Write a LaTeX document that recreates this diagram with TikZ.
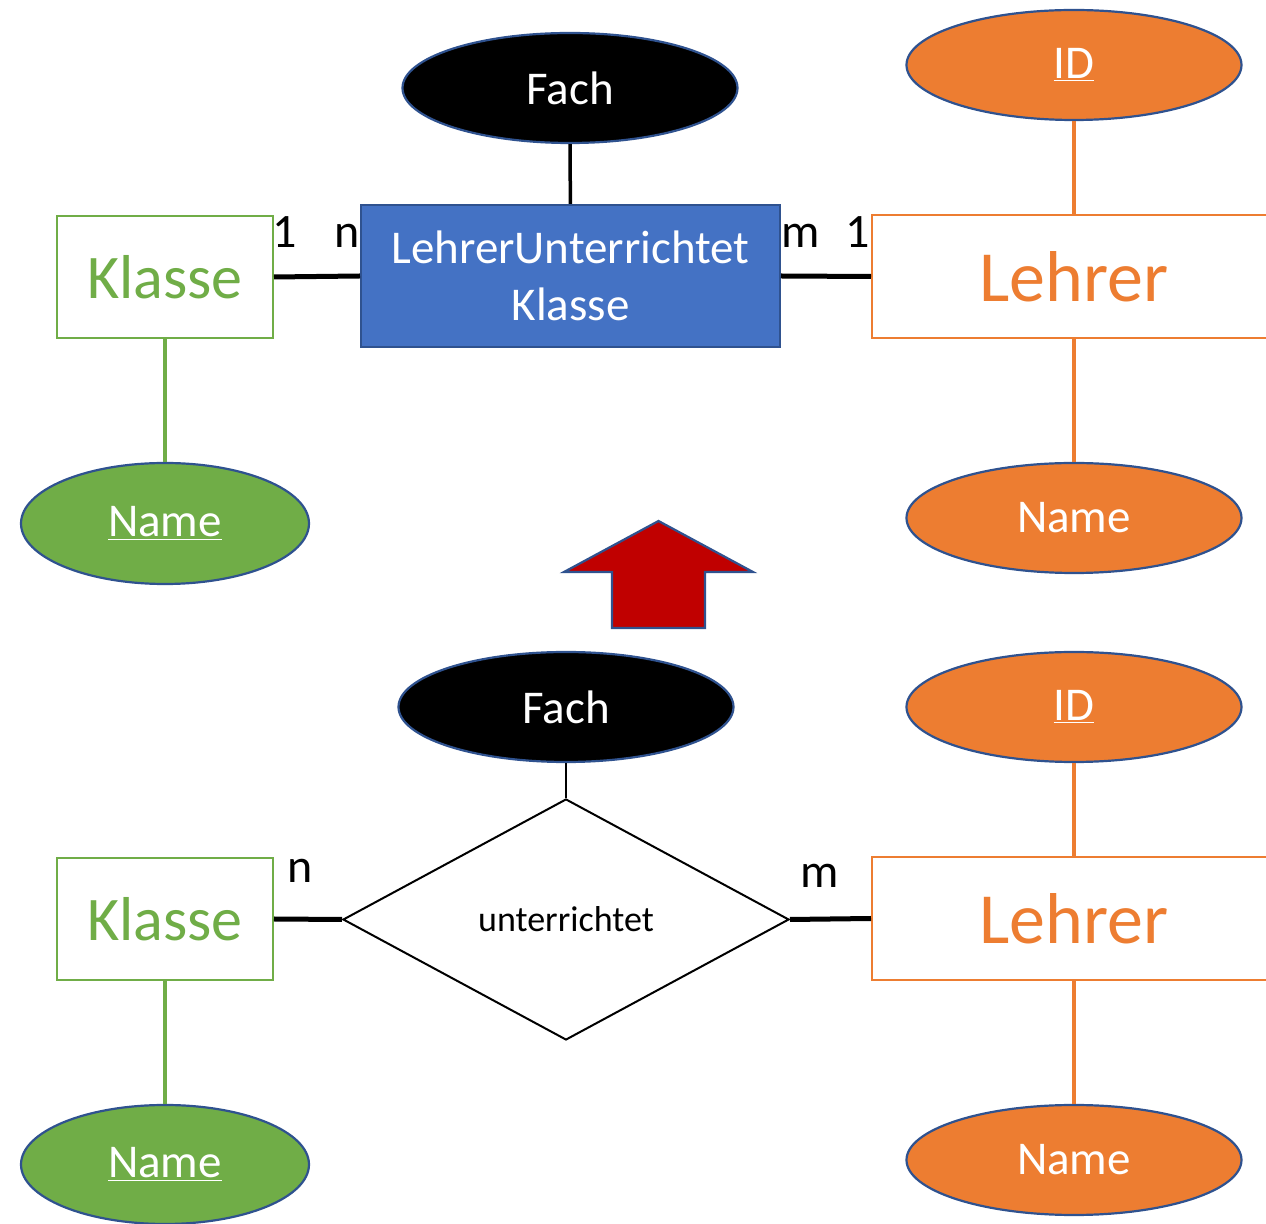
\documentclass[tikz,border=0pt]{standalone}
\usepackage{fontspec}
\setmainfont{Carlito}
\usetikzlibrary{shapes.geometric}
\definecolor{kgreen}{HTML}{70AD47}
\definecolor{lorange}{HTML}{ED7D31}
\definecolor{rblue}{HTML}{4472C4}
\definecolor{edgeblue}{HTML}{2F528F}
\definecolor{arrowred}{HTML}{C00000}
\tikzstyle{attr}=[ellipse,draw=edgeblue,line width=1.1pt,inner sep=0pt,minimum width=167.5pt,minimum height=55pt,text=white,font=\fontsize{23.5}{28}\selectfont]
\tikzstyle{entity}=[rectangle,draw,fill=white,line width=1pt,inner sep=0pt,minimum width=108pt,minimum height=61pt]
\tikzstyle{card}=[anchor=base,inner sep=0pt,font=\fontsize{24}{28}\selectfont]
\tikzstyle{conn}=[line width=2.5pt]
\tikzstyle{att}=[line width=1.75pt]

\begin{document}
\begin{tikzpicture}[x=0.5pt,y=-0.5pt]
\useasboundingbox (0,0) rectangle (1266,1224);
\node [attr,fill=black] (f1) at (570,88) {Fach};
\node [rectangle,draw=edgeblue,fill=rblue,line width=1pt,minimum width=209.5pt,minimum height=71pt,text=white,align=center,font=\fontsize{23.5}{28.5}\selectfont] (r1) at (570.5,276) {LehrerUnterrichtet\\Klasse};
\node [entity,draw=kgreen,text=kgreen,font=\fontsize{31}{36}\selectfont] (k1) at (165,277) {Klasse};
\node [entity,draw=lorange,text=lorange,minimum width=202pt,minimum height=61.5pt,font=\fontsize{36}{40}\selectfont] (l1) at (1074,276.5) {Lehrer};
\node [attr,fill=lorange] (id1) at (1074,65) {\underline{ID}};
\node [attr,fill=lorange] (n1) at (1074,518) {Name};
\node [attr,fill=kgreen,minimum width=144pt,minimum height=60.5pt] (kn1) at (165,523.5) {\underline{Name}};
\node [card] (c1) at (285,248) {1};
\node [card] (c2) at (347,248) {n};
\node [card] (c3) at (801,248) {m};
\node [card] (c4) at (858,248) {1};
\draw [line width=1.75pt] (f1) -- (r1);
\draw [conn] (k1.east) -- (r1.west);
\draw [conn] (r1.east) -- (l1.west);
\draw [att,lorange] (id1) -- (l1);
\draw [att,lorange] (l1) -- (n1);
\draw [att,kgreen] (k1) -- (kn1);

\draw [draw=edgeblue,fill=arrowred,line width=1.1pt] (658.5,521) -- (753,572) -- (705,572) -- (705,628) -- (612,628) -- (612,572) -- (564,572) -- cycle;

\node [attr,fill=black] (f2) at (566,707) {Fach};
\node [diamond,draw,fill=white,line width=1pt,inner sep=0pt,aspect=1.85,minimum width=223pt,minimum height=120.5pt,font=\fontsize{18}{22}\selectfont] (u) at (566,919.5) {unterrichtet};
\node [entity,draw=kgreen,text=kgreen,font=\fontsize{31}{36}\selectfont] (k2) at (165,919) {Klasse};
\node [entity,draw=lorange,text=lorange,minimum width=202pt,minimum height=61.5pt,font=\fontsize{36}{40}\selectfont] (l2) at (1074,918.5) {Lehrer};
\node [attr,fill=lorange] (id2) at (1074,707) {\underline{ID}};
\node [attr,fill=lorange] (n2) at (1074,1160) {Name};
\node [attr,fill=kgreen,minimum width=144pt,minimum height=59.5pt] (kn2) at (165,1164.5) {\underline{Name}};
\node [card] (c5) at (300,883) {n};
\node [card] (c6) at (820,888) {m};
\draw [line width=1.4pt] (f2) -- (u);
\draw [conn] (k2.east) -- (u.west);
\draw [conn] (u.east) -- (l2.west);
\draw [att,lorange] (id2) -- (l2);
\draw [att,lorange] (l2) -- (n2);
\draw [att,kgreen] (k2) -- (kn2);
\end{tikzpicture}
\end{document}
